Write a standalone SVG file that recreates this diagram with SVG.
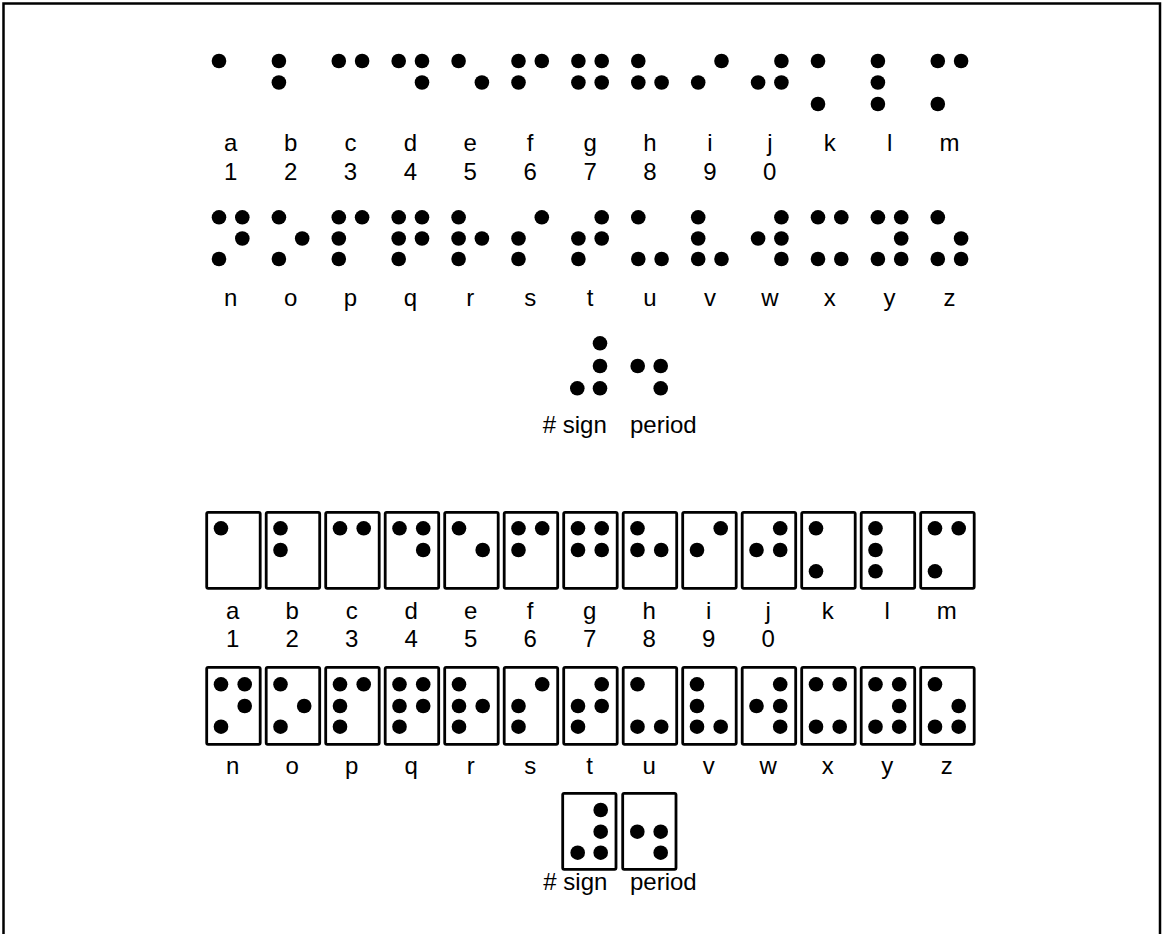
<svg xmlns="http://www.w3.org/2000/svg" width="1163" height="934" viewBox="0 0 1163 934">
<style>
.bg{fill:#fff}
.frame{fill:none;stroke:#000;stroke-width:2.5}
circle{fill:#000}
.box{fill:#fff;stroke:#000;stroke-width:2.8}
text{font-family:"Liberation Sans",Arial,sans-serif;font-size:24px;fill:#000;text-anchor:middle}
.st{text-anchor:start}
</style>
<rect class="bg" x="0" y="0" width="1163" height="934"/>
<path class="frame" d="M3.5,940 V3.5 H1160 V940"/>

<g id="top-letters">
<g id="top-a"><circle cx="219" cy="61" r="7.3"/><text x="230.7" y="151">a</text><text x="230.7" y="179.5">1</text></g>
<g id="top-b"><circle cx="278.9" cy="61" r="7.3"/><circle cx="278.9" cy="82.5" r="7.3"/><text x="290.6" y="151">b</text><text x="290.6" y="179.5">2</text></g>
<g id="top-c"><circle cx="338.8" cy="61" r="7.3"/><circle cx="362.1" cy="61" r="7.3"/><text x="350.5" y="151">c</text><text x="350.5" y="179.5">3</text></g>
<g id="top-d"><circle cx="398.7" cy="61" r="7.3"/><circle cx="422" cy="61" r="7.3"/><circle cx="422" cy="82.5" r="7.3"/><text x="410.4" y="151">d</text><text x="410.4" y="179.5">4</text></g>
<g id="top-e"><circle cx="458.6" cy="61" r="7.3"/><circle cx="481.9" cy="82.5" r="7.3"/><text x="470.3" y="151">e</text><text x="470.3" y="179.5">5</text></g>
<g id="top-f"><circle cx="518.5" cy="61" r="7.3"/><circle cx="518.5" cy="82.5" r="7.3"/><circle cx="541.8" cy="61" r="7.3"/><text x="530.2" y="151">f</text><text x="530.2" y="179.5">6</text></g>
<g id="top-g"><circle cx="578.4" cy="61" r="7.3"/><circle cx="578.4" cy="82.5" r="7.3"/><circle cx="601.7" cy="61" r="7.3"/><circle cx="601.7" cy="82.5" r="7.3"/><text x="590.1" y="151">g</text><text x="590.1" y="179.5">7</text></g>
<g id="top-h"><circle cx="638.3" cy="61" r="7.3"/><circle cx="638.3" cy="82.5" r="7.3"/><circle cx="661.6" cy="82.5" r="7.3"/><text x="650" y="151">h</text><text x="650" y="179.5">8</text></g>
<g id="top-i"><circle cx="698.2" cy="82.5" r="7.3"/><circle cx="721.5" cy="61" r="7.3"/><text x="709.9" y="151">i</text><text x="709.9" y="179.5">9</text></g>
<g id="top-j"><circle cx="758.1" cy="82.5" r="7.3"/><circle cx="781.4" cy="61" r="7.3"/><circle cx="781.4" cy="82.5" r="7.3"/><text x="769.8" y="151">j</text><text x="769.8" y="179.5">0</text></g>
<g id="top-k"><circle cx="818" cy="61" r="7.3"/><circle cx="818" cy="104" r="7.3"/><text x="829.7" y="151">k</text></g>
<g id="top-l"><circle cx="877.9" cy="61" r="7.3"/><circle cx="877.9" cy="82.5" r="7.3"/><circle cx="877.9" cy="104" r="7.3"/><text x="889.6" y="151">l</text></g>
<g id="top-m"><circle cx="937.8" cy="61" r="7.3"/><circle cx="937.8" cy="104" r="7.3"/><circle cx="961.1" cy="61" r="7.3"/><text x="949.5" y="151">m</text></g>

<g id="top-n"><circle cx="219" cy="217.3" r="7.3"/><circle cx="219" cy="259" r="7.3"/><circle cx="242.3" cy="217.3" r="7.3"/><circle cx="242.3" cy="238.5" r="7.3"/><text x="230.7" y="306">n</text></g>
<g id="top-o"><circle cx="278.9" cy="217.3" r="7.3"/><circle cx="278.9" cy="259" r="7.3"/><circle cx="302.2" cy="238.5" r="7.3"/><text x="290.6" y="306">o</text></g>
<g id="top-p"><circle cx="338.8" cy="217.3" r="7.3"/><circle cx="338.8" cy="238.5" r="7.3"/><circle cx="338.8" cy="259" r="7.3"/><circle cx="362.1" cy="217.3" r="7.3"/><text x="350.5" y="306">p</text></g>
<g id="top-q"><circle cx="398.7" cy="217.3" r="7.3"/><circle cx="398.7" cy="238.5" r="7.3"/><circle cx="398.7" cy="259" r="7.3"/><circle cx="422" cy="217.3" r="7.3"/><circle cx="422" cy="238.5" r="7.3"/><text x="410.4" y="306">q</text></g>
<g id="top-r"><circle cx="458.6" cy="217.3" r="7.3"/><circle cx="458.6" cy="238.5" r="7.3"/><circle cx="458.6" cy="259" r="7.3"/><circle cx="481.9" cy="238.5" r="7.3"/><text x="470.3" y="306">r</text></g>
<g id="top-s"><circle cx="518.5" cy="238.5" r="7.3"/><circle cx="518.5" cy="259" r="7.3"/><circle cx="541.8" cy="217.3" r="7.3"/><text x="530.2" y="306">s</text></g>
<g id="top-t"><circle cx="578.4" cy="238.5" r="7.3"/><circle cx="578.4" cy="259" r="7.3"/><circle cx="601.7" cy="217.3" r="7.3"/><circle cx="601.7" cy="238.5" r="7.3"/><text x="590.1" y="306">t</text></g>
<g id="top-u"><circle cx="638.3" cy="217.3" r="7.3"/><circle cx="638.3" cy="259" r="7.3"/><circle cx="661.6" cy="259" r="7.3"/><text x="650" y="306">u</text></g>
<g id="top-v"><circle cx="698.2" cy="217.3" r="7.3"/><circle cx="698.2" cy="238.5" r="7.3"/><circle cx="698.2" cy="259" r="7.3"/><circle cx="721.5" cy="259" r="7.3"/><text x="709.9" y="306">v</text></g>
<g id="top-w"><circle cx="758.1" cy="238.5" r="7.3"/><circle cx="781.4" cy="217.3" r="7.3"/><circle cx="781.4" cy="238.5" r="7.3"/><circle cx="781.4" cy="259" r="7.3"/><text x="769.8" y="306">w</text></g>
<g id="top-x"><circle cx="818" cy="217.3" r="7.3"/><circle cx="818" cy="259" r="7.3"/><circle cx="841.3" cy="217.3" r="7.3"/><circle cx="841.3" cy="259" r="7.3"/><text x="829.7" y="306">x</text></g>
<g id="top-y"><circle cx="877.9" cy="217.3" r="7.3"/><circle cx="877.9" cy="259" r="7.3"/><circle cx="901.2" cy="217.3" r="7.3"/><circle cx="901.2" cy="238.5" r="7.3"/><circle cx="901.2" cy="259" r="7.3"/><text x="889.6" y="306">y</text></g>
<g id="top-z"><circle cx="937.8" cy="217.3" r="7.3"/><circle cx="937.8" cy="259" r="7.3"/><circle cx="961.1" cy="238.5" r="7.3"/><circle cx="961.1" cy="259" r="7.3"/><text x="949.5" y="306">z</text></g>

<g id="top-numsign"><circle cx="577.3" cy="388.3" r="7.3"/><circle cx="600" cy="343.3" r="7.3"/><circle cx="600" cy="366" r="7.3"/><circle cx="600" cy="388.3" r="7.3"/><text class="st" x="542.7" y="433">#&#160;sign</text></g>
<g id="top-period"><circle cx="637.7" cy="366" r="7.3"/><circle cx="660.7" cy="366" r="7.3"/><circle cx="660.7" cy="388.3" r="7.3"/><text class="st" x="630" y="433">period</text></g>
</g>

<g id="box-letters">
<g id="box-a"><rect class="box" x="206.7" y="512.3" width="53.5" height="76" rx="1.5"/><circle cx="221" cy="528.3" r="7.3"/><text x="232.7" y="618.5">a</text><text x="232.7" y="647">1</text></g>
<g id="box-b"><rect class="box" x="266.2" y="512.3" width="53.5" height="76" rx="1.5"/><circle cx="280.5" cy="528.3" r="7.3"/><circle cx="280.5" cy="550" r="7.3"/><text x="292.2" y="618.5">b</text><text x="292.2" y="647">2</text></g>
<g id="box-c"><rect class="box" x="325.7" y="512.3" width="53.5" height="76" rx="1.5"/><circle cx="340" cy="528.3" r="7.3"/><circle cx="363.7" cy="528.3" r="7.3"/><text x="351.7" y="618.5">c</text><text x="351.7" y="647">3</text></g>
<g id="box-d"><rect class="box" x="385.2" y="512.3" width="53.5" height="76" rx="1.5"/><circle cx="399.5" cy="528.3" r="7.3"/><circle cx="423.2" cy="528.3" r="7.3"/><circle cx="423.2" cy="550" r="7.3"/><text x="411.2" y="618.5">d</text><text x="411.2" y="647">4</text></g>
<g id="box-e"><rect class="box" x="444.7" y="512.3" width="53.5" height="76" rx="1.5"/><circle cx="459" cy="528.3" r="7.3"/><circle cx="482.7" cy="550" r="7.3"/><text x="470.7" y="618.5">e</text><text x="470.7" y="647">5</text></g>
<g id="box-f"><rect class="box" x="504.2" y="512.3" width="53.5" height="76" rx="1.5"/><circle cx="518.5" cy="528.3" r="7.3"/><circle cx="518.5" cy="550" r="7.3"/><circle cx="542.2" cy="528.3" r="7.3"/><text x="530.2" y="618.5">f</text><text x="530.2" y="647">6</text></g>
<g id="box-g"><rect class="box" x="563.7" y="512.3" width="53.5" height="76" rx="1.5"/><circle cx="578" cy="528.3" r="7.3"/><circle cx="578" cy="550" r="7.3"/><circle cx="601.7" cy="528.3" r="7.3"/><circle cx="601.7" cy="550" r="7.3"/><text x="589.7" y="618.5">g</text><text x="589.7" y="647">7</text></g>
<g id="box-h"><rect class="box" x="623.2" y="512.3" width="53.5" height="76" rx="1.5"/><circle cx="637.5" cy="528.3" r="7.3"/><circle cx="637.5" cy="550" r="7.3"/><circle cx="661.2" cy="550" r="7.3"/><text x="649.2" y="618.5">h</text><text x="649.2" y="647">8</text></g>
<g id="box-i"><rect class="box" x="682.7" y="512.3" width="53.5" height="76" rx="1.5"/><circle cx="697" cy="550" r="7.3"/><circle cx="720.7" cy="528.3" r="7.3"/><text x="708.7" y="618.5">i</text><text x="708.7" y="647">9</text></g>
<g id="box-j"><rect class="box" x="742.2" y="512.3" width="53.5" height="76" rx="1.5"/><circle cx="756.5" cy="550" r="7.3"/><circle cx="780.2" cy="528.3" r="7.3"/><circle cx="780.2" cy="550" r="7.3"/><text x="768.2" y="618.5">j</text><text x="768.2" y="647">0</text></g>
<g id="box-k"><rect class="box" x="801.7" y="512.3" width="53.5" height="76" rx="1.5"/><circle cx="816" cy="528.3" r="7.3"/><circle cx="816" cy="571.3" r="7.3"/><text x="827.7" y="618.5">k</text></g>
<g id="box-l"><rect class="box" x="861.2" y="512.3" width="53.5" height="76" rx="1.5"/><circle cx="875.5" cy="528.3" r="7.3"/><circle cx="875.5" cy="550" r="7.3"/><circle cx="875.5" cy="571.3" r="7.3"/><text x="887.2" y="618.5">l</text></g>
<g id="box-m"><rect class="box" x="920.7" y="512.3" width="53.5" height="76" rx="1.5"/><circle cx="935" cy="528.3" r="7.3"/><circle cx="935" cy="571.3" r="7.3"/><circle cx="958.7" cy="528.3" r="7.3"/><text x="946.7" y="618.5">m</text></g>

<g id="box-n"><rect class="box" x="206.7" y="667.3" width="53.5" height="77" rx="1.5"/><circle cx="221" cy="684.3" r="7.3"/><circle cx="221" cy="726.7" r="7.3"/><circle cx="244.7" cy="684.3" r="7.3"/><circle cx="244.7" cy="706" r="7.3"/><text x="232.7" y="773.5">n</text></g>
<g id="box-o"><rect class="box" x="266.2" y="667.3" width="53.5" height="77" rx="1.5"/><circle cx="280.5" cy="684.3" r="7.3"/><circle cx="280.5" cy="726.7" r="7.3"/><circle cx="304.2" cy="706" r="7.3"/><text x="292.2" y="773.5">o</text></g>
<g id="box-p"><rect class="box" x="325.7" y="667.3" width="53.5" height="77" rx="1.5"/><circle cx="340" cy="684.3" r="7.3"/><circle cx="340" cy="706" r="7.3"/><circle cx="340" cy="726.7" r="7.3"/><circle cx="363.7" cy="684.3" r="7.3"/><text x="351.7" y="773.5">p</text></g>
<g id="box-q"><rect class="box" x="385.2" y="667.3" width="53.5" height="77" rx="1.5"/><circle cx="399.5" cy="684.3" r="7.3"/><circle cx="399.5" cy="706" r="7.3"/><circle cx="399.5" cy="726.7" r="7.3"/><circle cx="423.2" cy="684.3" r="7.3"/><circle cx="423.2" cy="706" r="7.3"/><text x="411.2" y="773.5">q</text></g>
<g id="box-r"><rect class="box" x="444.7" y="667.3" width="53.5" height="77" rx="1.5"/><circle cx="459" cy="684.3" r="7.3"/><circle cx="459" cy="706" r="7.3"/><circle cx="459" cy="726.7" r="7.3"/><circle cx="482.7" cy="706" r="7.3"/><text x="470.7" y="773.5">r</text></g>
<g id="box-s"><rect class="box" x="504.2" y="667.3" width="53.5" height="77" rx="1.5"/><circle cx="518.5" cy="706" r="7.3"/><circle cx="518.5" cy="726.7" r="7.3"/><circle cx="542.2" cy="684.3" r="7.3"/><text x="530.2" y="773.5">s</text></g>
<g id="box-t"><rect class="box" x="563.7" y="667.3" width="53.5" height="77" rx="1.5"/><circle cx="578" cy="706" r="7.3"/><circle cx="578" cy="726.7" r="7.3"/><circle cx="601.7" cy="684.3" r="7.3"/><circle cx="601.7" cy="706" r="7.3"/><text x="589.7" y="773.5">t</text></g>
<g id="box-u"><rect class="box" x="623.2" y="667.3" width="53.5" height="77" rx="1.5"/><circle cx="637.5" cy="684.3" r="7.3"/><circle cx="637.5" cy="726.7" r="7.3"/><circle cx="661.2" cy="726.7" r="7.3"/><text x="649.2" y="773.5">u</text></g>
<g id="box-v"><rect class="box" x="682.7" y="667.3" width="53.5" height="77" rx="1.5"/><circle cx="697" cy="684.3" r="7.3"/><circle cx="697" cy="706" r="7.3"/><circle cx="697" cy="726.7" r="7.3"/><circle cx="720.7" cy="726.7" r="7.3"/><text x="708.7" y="773.5">v</text></g>
<g id="box-w"><rect class="box" x="742.2" y="667.3" width="53.5" height="77" rx="1.5"/><circle cx="756.5" cy="706" r="7.3"/><circle cx="780.2" cy="684.3" r="7.3"/><circle cx="780.2" cy="706" r="7.3"/><circle cx="780.2" cy="726.7" r="7.3"/><text x="768.2" y="773.5">w</text></g>
<g id="box-x"><rect class="box" x="801.7" y="667.3" width="53.5" height="77" rx="1.5"/><circle cx="816" cy="684.3" r="7.3"/><circle cx="816" cy="726.7" r="7.3"/><circle cx="839.7" cy="684.3" r="7.3"/><circle cx="839.7" cy="726.7" r="7.3"/><text x="827.7" y="773.5">x</text></g>
<g id="box-y"><rect class="box" x="861.2" y="667.3" width="53.5" height="77" rx="1.5"/><circle cx="875.5" cy="684.3" r="7.3"/><circle cx="875.5" cy="726.7" r="7.3"/><circle cx="899.2" cy="684.3" r="7.3"/><circle cx="899.2" cy="706" r="7.3"/><circle cx="899.2" cy="726.7" r="7.3"/><text x="887.2" y="773.5">y</text></g>
<g id="box-z"><rect class="box" x="920.7" y="667.3" width="53.5" height="77" rx="1.5"/><circle cx="935" cy="684.3" r="7.3"/><circle cx="935" cy="726.7" r="7.3"/><circle cx="958.7" cy="706" r="7.3"/><circle cx="958.7" cy="726.7" r="7.3"/><text x="946.7" y="773.5">z</text></g>

<g id="box-numsign"><rect class="box" x="562.7" y="793.3" width="53.3" height="76" rx="1.5"/><circle cx="577.7" cy="852.7" r="7.3"/><circle cx="600.7" cy="810" r="7.3"/><circle cx="600.7" cy="831.7" r="7.3"/><circle cx="600.7" cy="852.7" r="7.3"/><text class="st" x="543.3" y="890">#&#160;sign</text></g>
<g id="box-period"><rect class="box" x="622.7" y="793.3" width="53.3" height="76" rx="1.5"/><circle cx="637.3" cy="831.7" r="7.3"/><circle cx="660.7" cy="831.7" r="7.3"/><circle cx="660.7" cy="852.7" r="7.3"/><text class="st" x="630" y="890">period</text></g>
</g>
<g id="connectors"/>
</svg>
